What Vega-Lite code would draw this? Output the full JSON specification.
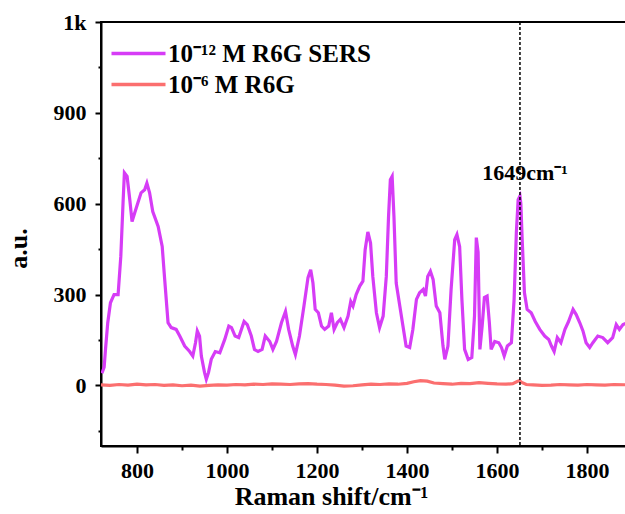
{
  "$schema": "https://vega.github.io/schema/vega-lite/v6.json",
  "width": 531,
  "height": 424,
  "autosize": {"type": "none"},
  "padding": {"left": 101, "top": 22, "right": 0, "bottom": 68},
  "background": "white",
  "config": {
    "view": {"stroke": "black", "strokeWidth": 2},
    "font": "Liberation Serif",
    "axis": {
      "grid": false,
      "domainColor": "black",
      "domainWidth": 2,
      "tickColor": "black",
      "tickWidth": 2,
      "labelFont": "Liberation Serif",
      "labelFontSize": 22,
      "labelFontWeight": "bold",
      "labelColor": "black",
      "titleFont": "Liberation Serif",
      "titleFontSize": 26,
      "titleFontWeight": "bold",
      "titleColor": "black"
    }
  },
  "datasets": {
    "spectra": [
      {"x": 722, "y": 40, "series": "10⁻¹² M R6G SERS"},
      {"x": 727, "y": 60, "series": "10⁻¹² M R6G SERS"},
      {"x": 730, "y": 119, "series": "10⁻¹² M R6G SERS"},
      {"x": 735, "y": 207, "series": "10⁻¹² M R6G SERS"},
      {"x": 741, "y": 273, "series": "10⁻¹² M R6G SERS"},
      {"x": 749, "y": 300, "series": "10⁻¹² M R6G SERS"},
      {"x": 758, "y": 300, "series": "10⁻¹² M R6G SERS"},
      {"x": 764, "y": 426, "series": "10⁻¹² M R6G SERS"},
      {"x": 769, "y": 603, "series": "10⁻¹² M R6G SERS"},
      {"x": 772, "y": 702, "series": "10⁻¹² M R6G SERS"},
      {"x": 778, "y": 690, "series": "10⁻¹² M R6G SERS"},
      {"x": 784, "y": 613, "series": "10⁻¹² M R6G SERS"},
      {"x": 789, "y": 541, "series": "10⁻¹² M R6G SERS"},
      {"x": 795, "y": 570, "series": "10⁻¹² M R6G SERS"},
      {"x": 802, "y": 603, "series": "10⁻¹² M R6G SERS"},
      {"x": 809, "y": 636, "series": "10⁻¹² M R6G SERS"},
      {"x": 817, "y": 646, "series": "10⁻¹² M R6G SERS"},
      {"x": 822, "y": 668, "series": "10⁻¹² M R6G SERS"},
      {"x": 828, "y": 636, "series": "10⁻¹² M R6G SERS"},
      {"x": 835, "y": 574, "series": "10⁻¹² M R6G SERS"},
      {"x": 847, "y": 525, "series": "10⁻¹² M R6G SERS"},
      {"x": 856, "y": 459, "series": "10⁻¹² M R6G SERS"},
      {"x": 861, "y": 360, "series": "10⁻¹² M R6G SERS"},
      {"x": 869, "y": 207, "series": "10⁻¹² M R6G SERS"},
      {"x": 876, "y": 191, "series": "10⁻¹² M R6G SERS"},
      {"x": 887, "y": 185, "series": "10⁻¹² M R6G SERS"},
      {"x": 895, "y": 163, "series": "10⁻¹² M R6G SERS"},
      {"x": 906, "y": 130, "series": "10⁻¹² M R6G SERS"},
      {"x": 917, "y": 112, "series": "10⁻¹² M R6G SERS"},
      {"x": 924, "y": 97, "series": "10⁻¹² M R6G SERS"},
      {"x": 930, "y": 141, "series": "10⁻¹² M R6G SERS"},
      {"x": 934, "y": 180, "series": "10⁻¹² M R6G SERS"},
      {"x": 939, "y": 163, "series": "10⁻¹² M R6G SERS"},
      {"x": 943, "y": 97, "series": "10⁻¹² M R6G SERS"},
      {"x": 950, "y": 43, "series": "10⁻¹² M R6G SERS"},
      {"x": 954, "y": 20, "series": "10⁻¹² M R6G SERS"},
      {"x": 959, "y": 43, "series": "10⁻¹² M R6G SERS"},
      {"x": 965, "y": 86, "series": "10⁻¹² M R6G SERS"},
      {"x": 974, "y": 112, "series": "10⁻¹² M R6G SERS"},
      {"x": 984, "y": 108, "series": "10⁻¹² M R6G SERS"},
      {"x": 995, "y": 152, "series": "10⁻¹² M R6G SERS"},
      {"x": 1004, "y": 196, "series": "10⁻¹² M R6G SERS"},
      {"x": 1010, "y": 191, "series": "10⁻¹² M R6G SERS"},
      {"x": 1018, "y": 163, "series": "10⁻¹² M R6G SERS"},
      {"x": 1026, "y": 158, "series": "10⁻¹² M R6G SERS"},
      {"x": 1038, "y": 211, "series": "10⁻¹² M R6G SERS"},
      {"x": 1045, "y": 201, "series": "10⁻¹² M R6G SERS"},
      {"x": 1054, "y": 163, "series": "10⁻¹² M R6G SERS"},
      {"x": 1061, "y": 119, "series": "10⁻¹² M R6G SERS"},
      {"x": 1069, "y": 112, "series": "10⁻¹² M R6G SERS"},
      {"x": 1078, "y": 119, "series": "10⁻¹² M R6G SERS"},
      {"x": 1085, "y": 163, "series": "10⁻¹² M R6G SERS"},
      {"x": 1095, "y": 145, "series": "10⁻¹² M R6G SERS"},
      {"x": 1102, "y": 119, "series": "10⁻¹² M R6G SERS"},
      {"x": 1110, "y": 145, "series": "10⁻¹² M R6G SERS"},
      {"x": 1121, "y": 207, "series": "10⁻¹² M R6G SERS"},
      {"x": 1130, "y": 244, "series": "10⁻¹² M R6G SERS"},
      {"x": 1137, "y": 185, "series": "10⁻¹² M R6G SERS"},
      {"x": 1146, "y": 130, "series": "10⁻¹² M R6G SERS"},
      {"x": 1152, "y": 102, "series": "10⁻¹² M R6G SERS"},
      {"x": 1161, "y": 163, "series": "10⁻¹² M R6G SERS"},
      {"x": 1171, "y": 262, "series": "10⁻¹² M R6G SERS"},
      {"x": 1180, "y": 356, "series": "10⁻¹² M R6G SERS"},
      {"x": 1186, "y": 382, "series": "10⁻¹² M R6G SERS"},
      {"x": 1191, "y": 338, "series": "10⁻¹² M R6G SERS"},
      {"x": 1196, "y": 251, "series": "10⁻¹² M R6G SERS"},
      {"x": 1203, "y": 240, "series": "10⁻¹² M R6G SERS"},
      {"x": 1210, "y": 196, "series": "10⁻¹² M R6G SERS"},
      {"x": 1217, "y": 185, "series": "10⁻¹² M R6G SERS"},
      {"x": 1226, "y": 196, "series": "10⁻¹² M R6G SERS"},
      {"x": 1232, "y": 240, "series": "10⁻¹² M R6G SERS"},
      {"x": 1238, "y": 185, "series": "10⁻¹² M R6G SERS"},
      {"x": 1245, "y": 207, "series": "10⁻¹² M R6G SERS"},
      {"x": 1252, "y": 218, "series": "10⁻¹² M R6G SERS"},
      {"x": 1260, "y": 191, "series": "10⁻¹² M R6G SERS"},
      {"x": 1269, "y": 229, "series": "10⁻¹² M R6G SERS"},
      {"x": 1275, "y": 277, "series": "10⁻¹² M R6G SERS"},
      {"x": 1280, "y": 262, "series": "10⁻¹² M R6G SERS"},
      {"x": 1287, "y": 300, "series": "10⁻¹² M R6G SERS"},
      {"x": 1295, "y": 328, "series": "10⁻¹² M R6G SERS"},
      {"x": 1302, "y": 344, "series": "10⁻¹² M R6G SERS"},
      {"x": 1307, "y": 448, "series": "10⁻¹² M R6G SERS"},
      {"x": 1313, "y": 507, "series": "10⁻¹² M R6G SERS"},
      {"x": 1319, "y": 470, "series": "10⁻¹² M R6G SERS"},
      {"x": 1324, "y": 360, "series": "10⁻¹² M R6G SERS"},
      {"x": 1332, "y": 240, "series": "10⁻¹² M R6G SERS"},
      {"x": 1339, "y": 191, "series": "10⁻¹² M R6G SERS"},
      {"x": 1347, "y": 229, "series": "10⁻¹² M R6G SERS"},
      {"x": 1354, "y": 360, "series": "10⁻¹² M R6G SERS"},
      {"x": 1359, "y": 558, "series": "10⁻¹² M R6G SERS"},
      {"x": 1363, "y": 679, "series": "10⁻¹² M R6G SERS"},
      {"x": 1367, "y": 690, "series": "10⁻¹² M R6G SERS"},
      {"x": 1371, "y": 558, "series": "10⁻¹² M R6G SERS"},
      {"x": 1376, "y": 338, "series": "10⁻¹² M R6G SERS"},
      {"x": 1384, "y": 262, "series": "10⁻¹² M R6G SERS"},
      {"x": 1391, "y": 196, "series": "10⁻¹² M R6G SERS"},
      {"x": 1398, "y": 130, "series": "10⁻¹² M R6G SERS"},
      {"x": 1406, "y": 125, "series": "10⁻¹² M R6G SERS"},
      {"x": 1413, "y": 185, "series": "10⁻¹² M R6G SERS"},
      {"x": 1421, "y": 284, "series": "10⁻¹² M R6G SERS"},
      {"x": 1428, "y": 306, "series": "10⁻¹² M R6G SERS"},
      {"x": 1436, "y": 317, "series": "10⁻¹² M R6G SERS"},
      {"x": 1441, "y": 295, "series": "10⁻¹² M R6G SERS"},
      {"x": 1446, "y": 360, "series": "10⁻¹² M R6G SERS"},
      {"x": 1452, "y": 377, "series": "10⁻¹² M R6G SERS"},
      {"x": 1458, "y": 350, "series": "10⁻¹² M R6G SERS"},
      {"x": 1465, "y": 262, "series": "10⁻¹² M R6G SERS"},
      {"x": 1473, "y": 240, "series": "10⁻¹² M R6G SERS"},
      {"x": 1480, "y": 130, "series": "10⁻¹² M R6G SERS"},
      {"x": 1484, "y": 86, "series": "10⁻¹² M R6G SERS"},
      {"x": 1491, "y": 130, "series": "10⁻¹² M R6G SERS"},
      {"x": 1498, "y": 317, "series": "10⁻¹² M R6G SERS"},
      {"x": 1506, "y": 481, "series": "10⁻¹² M R6G SERS"},
      {"x": 1511, "y": 498, "series": "10⁻¹² M R6G SERS"},
      {"x": 1517, "y": 458, "series": "10⁻¹² M R6G SERS"},
      {"x": 1522, "y": 284, "series": "10⁻¹² M R6G SERS"},
      {"x": 1528, "y": 119, "series": "10⁻¹² M R6G SERS"},
      {"x": 1536, "y": 86, "series": "10⁻¹² M R6G SERS"},
      {"x": 1544, "y": 92, "series": "10⁻¹² M R6G SERS"},
      {"x": 1550, "y": 229, "series": "10⁻¹² M R6G SERS"},
      {"x": 1554, "y": 488, "series": "10⁻¹² M R6G SERS"},
      {"x": 1558, "y": 440, "series": "10⁻¹² M R6G SERS"},
      {"x": 1562, "y": 119, "series": "10⁻¹² M R6G SERS"},
      {"x": 1567, "y": 196, "series": "10⁻¹² M R6G SERS"},
      {"x": 1572, "y": 290, "series": "10⁻¹² M R6G SERS"},
      {"x": 1578, "y": 295, "series": "10⁻¹² M R6G SERS"},
      {"x": 1583, "y": 207, "series": "10⁻¹² M R6G SERS"},
      {"x": 1587, "y": 119, "series": "10⁻¹² M R6G SERS"},
      {"x": 1595, "y": 145, "series": "10⁻¹² M R6G SERS"},
      {"x": 1604, "y": 141, "series": "10⁻¹² M R6G SERS"},
      {"x": 1610, "y": 125, "series": "10⁻¹² M R6G SERS"},
      {"x": 1616, "y": 97, "series": "10⁻¹² M R6G SERS"},
      {"x": 1623, "y": 130, "series": "10⁻¹² M R6G SERS"},
      {"x": 1632, "y": 141, "series": "10⁻¹² M R6G SERS"},
      {"x": 1638, "y": 284, "series": "10⁻¹² M R6G SERS"},
      {"x": 1643, "y": 504, "series": "10⁻¹² M R6G SERS"},
      {"x": 1647, "y": 613, "series": "10⁻¹² M R6G SERS"},
      {"x": 1651, "y": 625, "series": "10⁻¹² M R6G SERS"},
      {"x": 1653, "y": 600, "series": "10⁻¹² M R6G SERS"},
      {"x": 1656, "y": 481, "series": "10⁻¹² M R6G SERS"},
      {"x": 1661, "y": 306, "series": "10⁻¹² M R6G SERS"},
      {"x": 1667, "y": 251, "series": "10⁻¹² M R6G SERS"},
      {"x": 1676, "y": 240, "series": "10⁻¹² M R6G SERS"},
      {"x": 1685, "y": 211, "series": "10⁻¹² M R6G SERS"},
      {"x": 1695, "y": 185, "series": "10⁻¹² M R6G SERS"},
      {"x": 1706, "y": 163, "series": "10⁻¹² M R6G SERS"},
      {"x": 1715, "y": 152, "series": "10⁻¹² M R6G SERS"},
      {"x": 1721, "y": 130, "series": "10⁻¹² M R6G SERS"},
      {"x": 1727, "y": 112, "series": "10⁻¹² M R6G SERS"},
      {"x": 1734, "y": 158, "series": "10⁻¹² M R6G SERS"},
      {"x": 1742, "y": 141, "series": "10⁻¹² M R6G SERS"},
      {"x": 1751, "y": 185, "series": "10⁻¹² M R6G SERS"},
      {"x": 1759, "y": 211, "series": "10⁻¹² M R6G SERS"},
      {"x": 1769, "y": 251, "series": "10⁻¹² M R6G SERS"},
      {"x": 1776, "y": 234, "series": "10⁻¹² M R6G SERS"},
      {"x": 1784, "y": 207, "series": "10⁻¹² M R6G SERS"},
      {"x": 1791, "y": 180, "series": "10⁻¹² M R6G SERS"},
      {"x": 1798, "y": 141, "series": "10⁻¹² M R6G SERS"},
      {"x": 1806, "y": 125, "series": "10⁻¹² M R6G SERS"},
      {"x": 1813, "y": 141, "series": "10⁻¹² M R6G SERS"},
      {"x": 1824, "y": 163, "series": "10⁻¹² M R6G SERS"},
      {"x": 1835, "y": 158, "series": "10⁻¹² M R6G SERS"},
      {"x": 1846, "y": 141, "series": "10⁻¹² M R6G SERS"},
      {"x": 1857, "y": 158, "series": "10⁻¹² M R6G SERS"},
      {"x": 1865, "y": 201, "series": "10⁻¹² M R6G SERS"},
      {"x": 1872, "y": 185, "series": "10⁻¹² M R6G SERS"},
      {"x": 1880, "y": 201, "series": "10⁻¹² M R6G SERS"},
      {"x": 1890, "y": 207, "series": "10⁻¹² M R6G SERS"},
      {"x": 720, "y": 2, "series": "10⁻⁶ M R6G"},
      {"x": 740, "y": 0, "series": "10⁻⁶ M R6G"},
      {"x": 760, "y": 3, "series": "10⁻⁶ M R6G"},
      {"x": 780, "y": 1, "series": "10⁻⁶ M R6G"},
      {"x": 800, "y": 4, "series": "10⁻⁶ M R6G"},
      {"x": 820, "y": 2, "series": "10⁻⁶ M R6G"},
      {"x": 840, "y": 3, "series": "10⁻⁶ M R6G"},
      {"x": 860, "y": 0, "series": "10⁻⁶ M R6G"},
      {"x": 880, "y": 2, "series": "10⁻⁶ M R6G"},
      {"x": 900, "y": -1, "series": "10⁻⁶ M R6G"},
      {"x": 920, "y": 1, "series": "10⁻⁶ M R6G"},
      {"x": 940, "y": -2, "series": "10⁻⁶ M R6G"},
      {"x": 960, "y": 0, "series": "10⁻⁶ M R6G"},
      {"x": 980, "y": 2, "series": "10⁻⁶ M R6G"},
      {"x": 1000, "y": 1, "series": "10⁻⁶ M R6G"},
      {"x": 1020, "y": 3, "series": "10⁻⁶ M R6G"},
      {"x": 1040, "y": 2, "series": "10⁻⁶ M R6G"},
      {"x": 1060, "y": 4, "series": "10⁻⁶ M R6G"},
      {"x": 1080, "y": 3, "series": "10⁻⁶ M R6G"},
      {"x": 1100, "y": 5, "series": "10⁻⁶ M R6G"},
      {"x": 1120, "y": 4, "series": "10⁻⁶ M R6G"},
      {"x": 1140, "y": 3, "series": "10⁻⁶ M R6G"},
      {"x": 1160, "y": 5, "series": "10⁻⁶ M R6G"},
      {"x": 1180, "y": 6, "series": "10⁻⁶ M R6G"},
      {"x": 1200, "y": 4, "series": "10⁻⁶ M R6G"},
      {"x": 1220, "y": 3, "series": "10⁻⁶ M R6G"},
      {"x": 1240, "y": 1, "series": "10⁻⁶ M R6G"},
      {"x": 1260, "y": -2, "series": "10⁻⁶ M R6G"},
      {"x": 1280, "y": -1, "series": "10⁻⁶ M R6G"},
      {"x": 1300, "y": 2, "series": "10⁻⁶ M R6G"},
      {"x": 1320, "y": 4, "series": "10⁻⁶ M R6G"},
      {"x": 1340, "y": 3, "series": "10⁻⁶ M R6G"},
      {"x": 1360, "y": 5, "series": "10⁻⁶ M R6G"},
      {"x": 1380, "y": 4, "series": "10⁻⁶ M R6G"},
      {"x": 1400, "y": 7, "series": "10⁻⁶ M R6G"},
      {"x": 1415, "y": 12, "series": "10⁻⁶ M R6G"},
      {"x": 1430, "y": 16, "series": "10⁻⁶ M R6G"},
      {"x": 1445, "y": 14, "series": "10⁻⁶ M R6G"},
      {"x": 1460, "y": 8, "series": "10⁻⁶ M R6G"},
      {"x": 1480, "y": 6, "series": "10⁻⁶ M R6G"},
      {"x": 1500, "y": 4, "series": "10⁻⁶ M R6G"},
      {"x": 1520, "y": 7, "series": "10⁻⁶ M R6G"},
      {"x": 1540, "y": 6, "series": "10⁻⁶ M R6G"},
      {"x": 1560, "y": 9, "series": "10⁻⁶ M R6G"},
      {"x": 1580, "y": 7, "series": "10⁻⁶ M R6G"},
      {"x": 1600, "y": 5, "series": "10⁻⁶ M R6G"},
      {"x": 1620, "y": 4, "series": "10⁻⁶ M R6G"},
      {"x": 1635, "y": 6, "series": "10⁻⁶ M R6G"},
      {"x": 1645, "y": 13, "series": "10⁻⁶ M R6G"},
      {"x": 1650, "y": 16, "series": "10⁻⁶ M R6G"},
      {"x": 1655, "y": 10, "series": "10⁻⁶ M R6G"},
      {"x": 1665, "y": 3, "series": "10⁻⁶ M R6G"},
      {"x": 1680, "y": 2, "series": "10⁻⁶ M R6G"},
      {"x": 1700, "y": 0, "series": "10⁻⁶ M R6G"},
      {"x": 1720, "y": 1, "series": "10⁻⁶ M R6G"},
      {"x": 1740, "y": 3, "series": "10⁻⁶ M R6G"},
      {"x": 1760, "y": 2, "series": "10⁻⁶ M R6G"},
      {"x": 1780, "y": 1, "series": "10⁻⁶ M R6G"},
      {"x": 1800, "y": 3, "series": "10⁻⁶ M R6G"},
      {"x": 1820, "y": 2, "series": "10⁻⁶ M R6G"},
      {"x": 1840, "y": 1, "series": "10⁻⁶ M R6G"},
      {"x": 1860, "y": 3, "series": "10⁻⁶ M R6G"},
      {"x": 1890, "y": 2, "series": "10⁻⁶ M R6G"}
    ],
    "marker": [{"x": 1651}],
    "note": [{"x": 1567, "y": 679, "label": "1649cm⁻¹"}]
  },
  "layer": [
    {
      "data": {"name": "spectra"},
      "mark": {"type": "line", "strokeWidth": 3.2, "clip": true},
      "encoding": {
        "x": {
          "field": "x",
          "type": "quantitative",
          "scale": {"domain": [720, 1900], "nice": false, "zero": false},
          "axis": {
            "values": [800, 900, 1000, 1100, 1200, 1300, 1400, 1500, 1600, 1700, 1800],
            "format": "d",
            "labelExpr": "datum.value % 200 === 0 ? datum.label : ''",
            "tickSize": {"condition": {"test": "datum.value % 200 === 0", "value": 7}, "value": 4},
            "labelPadding": 7,
            "title": "Raman shift/cm⁻¹",
            "titlePadding": 2,
            "titleX": 230
          }
        },
        "y": {
          "field": "y",
          "type": "quantitative",
          "scale": {"domain": [-200, 1200], "nice": false},
          "axis": {
            "values": [-150, 0, 150, 300, 450, 600, 750, 900, 1050, 1200],
            "format": "d",
            "labelExpr": "datum.value === 1200 ? '1k' : (datum.value % 300 === 0 && datum.value >= 0 ? datum.label : '')",
            "tickSize": {"condition": {"test": "datum.value % 300 === 0", "value": 6}, "value": 3},
            "labelPadding": 9,
            "title": "a.u.",
            "titleX": -70,
            "titleY": 226
          }
        },
        "color": {
          "field": "series",
          "type": "nominal",
          "scale": {"domain": ["10⁻¹² M R6G SERS", "10⁻⁶ M R6G"], "range": ["#d63cf6", "#fb6f6f"]},
          "legend": {
            "orient": "none",
            "legendX": 22,
            "legendY": 16,
            "title": null,
            "padding": 0,
            "symbolType": "M-2,0H2",
            "symbolSize": 729,
            "symbolStrokeWidth": 3.5,
            "labelFont": "Liberation Serif",
            "labelFontSize": 25,
            "labelFontWeight": "bold",
            "labelColor": "black",
            "labelOffset": 14,
            "labelLimit": 0,
            "rowPadding": 2
          }
        }
      }
    },
    {
      "data": {"name": "marker"},
      "mark": {"type": "rule", "strokeDash": [3, 2], "strokeWidth": 1.5, "color": "black"},
      "encoding": {"x": {"field": "x", "type": "quantitative"}}
    },
    {
      "data": {"name": "note"},
      "mark": {"type": "text", "align": "left", "baseline": "alphabetic", "fontSize": 22, "fontWeight": "bold", "font": "Liberation Serif", "color": "black"},
      "encoding": {
        "x": {"field": "x", "type": "quantitative"},
        "y": {"field": "y", "type": "quantitative"},
        "text": {"field": "label"}
      }
    }
  ]
}
